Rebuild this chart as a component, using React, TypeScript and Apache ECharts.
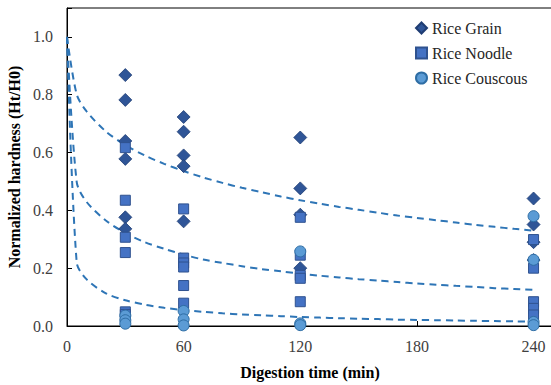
import React, { useEffect, useRef } from "react";
import * as echarts from "echarts";

const times = [30, 60, 120, 240];

const grainValues = [
  [0.868, 0.782, 0.64, 0.578, 0.376, 0.336],
  [0.723, 0.672, 0.59, 0.553, 0.362],
  [0.652, 0.476, 0.385, 0.2],
  [0.441, 0.351, 0.29, 0.228],
];
const noodleValues = [
  [0.617, 0.435, 0.307, 0.254, 0.049, 0.04],
  [0.405, 0.235, 0.218, 0.204, 0.14, 0.079],
  [0.376, 0.245, 0.175, 0.165, 0.084],
  [0.299, 0.2, 0.084, 0.061, 0.038],
];
const couscousValues = [
  [0.036, 0.02, 0.008],
  [0.052, 0.023, 0.002],
  [0.258, 0.009, 0.003],
  [0.38, 0.229, 0.014, 0.003],
];

const fitT = [0, 5, 10, 20, 30, 40, 50, 60, 70, 80, 90, 100, 110, 120, 130, 140, 150, 160, 170, 180, 190, 200, 210, 220, 230, 240];
const grainFitV = [1.0, 0.801, 0.743, 0.673, 0.626, 0.59, 0.561, 0.536, 0.514, 0.495, 0.478, 0.463, 0.448, 0.435, 0.423, 0.412, 0.402, 0.392, 0.382, 0.374, 0.366, 0.358, 0.35, 0.343, 0.336, 0.33];
const noodleFitV = [1.0, 0.498, 0.43, 0.365, 0.322, 0.29, 0.267, 0.247, 0.23, 0.218, 0.207, 0.197, 0.189, 0.181, 0.174, 0.168, 0.162, 0.157, 0.152, 0.147, 0.143, 0.139, 0.135, 0.131, 0.128, 0.125];
const couscousFitV = [1.0, 0.219, 0.162, 0.113, 0.089, 0.074, 0.063, 0.055, 0.049, 0.044, 0.04, 0.037, 0.034, 0.031, 0.029, 0.027, 0.025, 0.024, 0.022, 0.021, 0.02, 0.019, 0.018, 0.017, 0.016, 0.0156];

const xTicks = [0, 60, 120, 180, 240];

const toPoints = (vals: number[][]) =>
  times.flatMap((t, i) => vals[i].map((v) => [t, v]));
const toLine = (ts: number[], vs: number[]) => ts.map((t, i) => [t, vs[i]]);

const FONT = "'Liberation Serif', 'Times New Roman', serif";

export default function App() {
  const ref = useRef<HTMLDivElement>(null);
  useEffect(() => {
    if (!ref.current) return;
    const chart = echarts.init(ref.current, undefined, { renderer: "svg" });
    const lineStyle = { color: "#2E75B6", width: 2, type: [7, 5] as any };
    const fitSeries = (name: string, vs: number[]) => ({
      name,
      type: "line",
      data: toLine(fitT, vs),
      showSymbol: false,
      symbol: "none",
      smooth: 0.3,
      lineStyle,
      z: 1,
      silent: true,
    });
    chart.setOption({
      animation: false,
      backgroundColor: "#fff",
      textStyle: { fontFamily: FONT },
      grid: {
        left: 67,
        right: -2,
        top: 8,
        bottom: 59,
        show: true,
        borderColor: "#000",
        borderWidth: 1,
        outerBoundsMode: "none",
        containLabel: false,
      },
      legend: {
        orient: "vertical",
        left: 410,
        top: 15,
        itemWidth: 11,
        itemHeight: 11,
        itemGap: 9,
        textStyle: { fontFamily: FONT, fontSize: 16, color: "#262626" },
        data: ["Rice Grain", "Rice Noodle", "Rice Couscous"],
      },
      xAxis: {
        type: "value",
        min: 0,
        max: 250,
        interval: 60,
        name: "Digestion time (min)",
        nameLocation: "middle",
        nameGap: 38,
        nameTextStyle: { fontFamily: FONT, fontSize: 16, fontWeight: "bold", color: "#000" },
        axisLine: { lineStyle: { color: "#000", width: 1 } },
        axisTick: { inside: true, length: 5, lineStyle: { color: "#000" } },
        axisLabel: {
          fontFamily: FONT,
          fontSize: 16,
          color: "#404040",
          margin: 12,
          formatter: (v: number) => (xTicks.includes(v) ? String(v) : ""),
        },
        splitLine: { show: false },
      },
      yAxis: {
        type: "value",
        min: 0,
        max: 1.1,
        interval: 0.2,
        name: "Normalized hardness (Ht/H0)",
        nameLocation: "middle",
        nameGap: 43,
        nameTextStyle: { fontFamily: FONT, fontSize: 16, fontWeight: "bold", color: "#000" },
        axisLine: { show: true, lineStyle: { color: "#000", width: 1 } },
        axisTick: { show: true, inside: true, length: 5, lineStyle: { color: "#000" } },
        axisLabel: {
          fontFamily: FONT,
          fontSize: 16,
          color: "#404040",
          margin: 14,
          formatter: (v: number) =>
            Math.abs(v * 5 - Math.round(v * 5)) < 1e-6 ? v.toFixed(1) : "",
        },
        splitLine: { show: false },
      },
      series: [
        fitSeries("fitGrain", grainFitV),
        fitSeries("fitNoodle", noodleFitV),
        fitSeries("fitCouscous", couscousFitV),
        {
          name: "Rice Grain",
          type: "scatter",
          symbol: "diamond",
          symbolSize: 13,
          data: toPoints(grainValues),
          itemStyle: { color: "#2F5597", borderColor: "#1F3D73", borderWidth: 0.8, opacity: 1 },
          z: 3,
        },
        {
          name: "Rice Noodle",
          type: "scatter",
          symbol: "rect",
          symbolSize: 10,
          data: toPoints(noodleValues),
          itemStyle: { color: "#4472C4", borderColor: "#2F528F", borderWidth: 1, opacity: 1 },
          z: 4,
        },
        {
          name: "Rice Couscous",
          type: "scatter",
          symbol: "circle",
          symbolSize: 11,
          data: toPoints(couscousValues),
          itemStyle: { color: "#5B9BD5", borderColor: "#2E6DA4", borderWidth: 1, opacity: 1 },
          z: 5,
        },
      ],
    });
    return () => chart.dispose();
  }, []);
  return (
    <div
      ref={ref}
      style={{ position: "fixed", left: 0, top: 0, width: 551, height: 385 }}
    />
  );
}
